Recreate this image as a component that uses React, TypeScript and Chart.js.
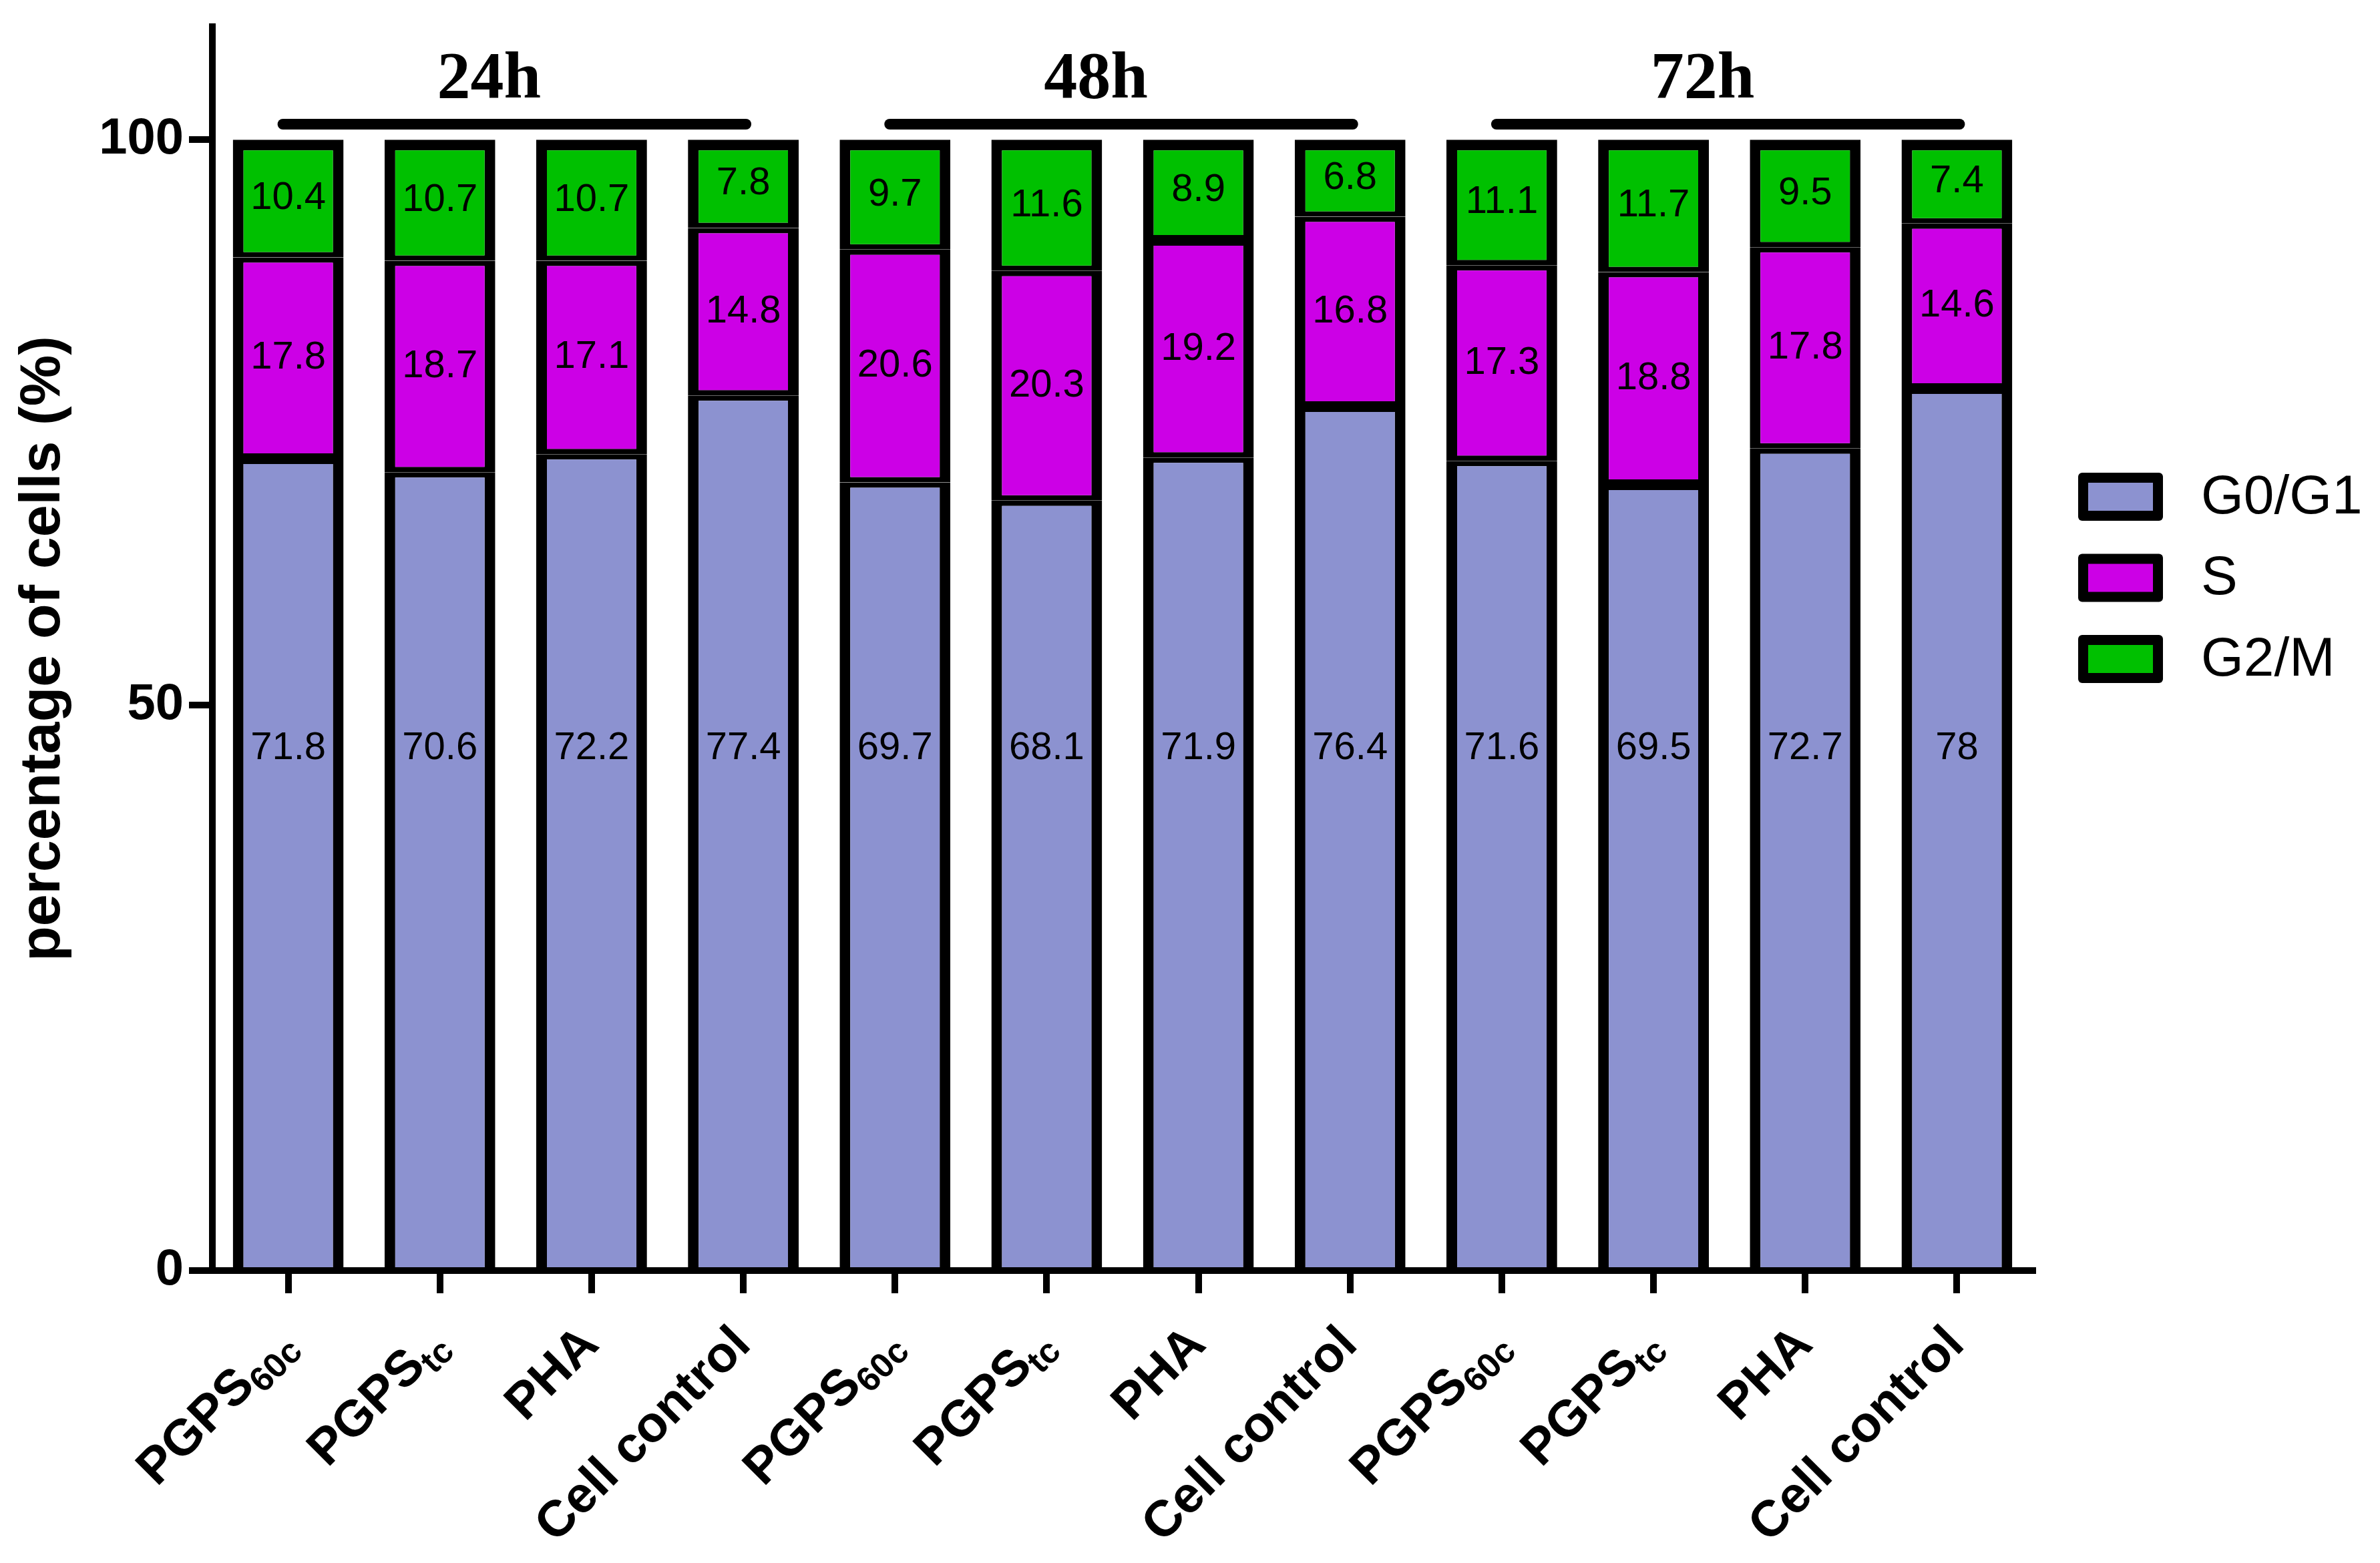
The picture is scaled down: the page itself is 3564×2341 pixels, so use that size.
import { useEffect, useRef } from "react";
import { Chart, ChartConfiguration, Plugin, registerables } from "chart.js";

Chart.register(...registerables);

const groups = ["24h", "48h", "72h"];
const treatments = ["PGPS", "PGPS", "PHA", "Cell control"];
const treatmentSubs = ["60c", "tc", "", ""];
const phases = ["G0/G1", "S", "G2/M"];
const phaseColors = ["#8C92D0", "#CC00E6", "#00C000"];

const g0g1 = [71.8, 70.6, 72.2, 77.4, 69.7, 68.1, 71.9, 76.4, 71.6, 69.5, 72.7, 78];
const sPhase = [17.8, 18.7, 17.1, 14.8, 20.6, 20.3, 19.2, 16.8, 17.3, 18.8, 17.8, 14.6];
const g2m = [10.4, 10.7, 10.7, 7.8, 9.7, 11.6, 8.9, 6.8, 11.1, 11.7, 9.5, 7.4];

const yTicks = [0, 50, 100];
// the G0/G1 numbers all sit at about this height in the original
const bottomLabelLevel = 46.2;

const sans = "'Liberation Sans', Arial, sans-serif";
const serif = "'Liberation Serif', 'Times New Roman', serif";

const labels = groups.flatMap(() => treatments.map((t, i) => t + treatmentSubs[i]));

const annotate: Plugin<"bar"> = {
  id: "annotate",
  afterDatasetsDraw(chart) {
    const { ctx } = chart;
    const ys = chart.scales.y;
    ctx.save();
    ctx.fillStyle = "#000";
    ctx.font = `58px ${sans}`;
    ctx.textAlign = "center";
    ctx.textBaseline = "middle";
    chart.data.datasets.forEach((ds, di) => {
      const meta = chart.getDatasetMeta(di);
      meta.data.forEach((el, i) => {
        const p = el.getProps(["x", "y", "base"], true) as any;
        const ty = di === 0 ? ys.getPixelForValue(bottomLabelLevel) : (p.base + p.y) / 2;
        ctx.fillText(String(ds.data[i]), p.x, ty);
      });
    });
    ctx.restore();
  },
  afterDraw(chart) {
    const { ctx, chartArea } = chart;
    const xs = chart.scales.x;
    ctx.save();
    ctx.fillStyle = "#000";
    ctx.strokeStyle = "#000";

    // rotated category labels with subscripts
    labels.forEach((_, i) => {
      const k = i % treatments.length;
      const main = treatments[k];
      const sub = treatmentSubs[k];
      const px = xs.getPixelForValue(i);
      ctx.save();
      ctx.translate(px + 14, chartArea.bottom + 114);
      ctx.rotate(-Math.PI / 4);
      ctx.textAlign = "left";
      ctx.textBaseline = "alphabetic";
      ctx.font = `bold 52px ${sans}`;
      const wSub = sub ? ctx.measureText(sub).width : 0;
      ctx.font = `bold 76px ${sans}`;
      const wMain = ctx.measureText(main).width;
      ctx.fillText(main, -(wMain + wSub), 0);
      if (sub) {
        ctx.font = `bold 52px ${sans}`;
        ctx.fillText(sub, -wSub, 14);
      }
      ctx.restore();
    });

    // time group headers
    groups.forEach((g, gi) => {
      const n = treatments.length;
      const x0 = xs.getPixelForValue(gi * n);
      const x1 = xs.getPixelForValue(gi * n + n - 1);
      ctx.lineWidth = 16;
      ctx.lineCap = "round";
      ctx.beginPath();
      ctx.moveTo(x0 - 8, chartArea.top + 146);
      ctx.lineTo(x1 + 4, chartArea.top + 146);
      ctx.stroke();
      ctx.font = `bold 100px ${serif}`;
      ctx.textAlign = "center";
      ctx.textBaseline = "alphabetic";
      ctx.fillText(g, (x0 + x1) / 2 - 40, chartArea.top + 106);
    });

    // legend
    const lx = chartArea.right + 68;
    phases.forEach((name, i) => {
      const cy = chartArea.top + 704 + i * 121.5;
      const w = 127;
      const h = 72;
      const bw = 15;
      ctx.fillStyle = "#000";
      ctx.beginPath();
      ctx.roundRect(lx, cy - h / 2, w, h, 6);
      ctx.fill();
      ctx.fillStyle = phaseColors[i];
      ctx.fillRect(lx + bw, cy - h / 2 + bw, w - 2 * bw, h - 2 * bw);
      ctx.fillStyle = "#000";
      ctx.font = `82px ${sans}`;
      ctx.textAlign = "left";
      ctx.textBaseline = "middle";
      ctx.fillText(name, lx + 184, cy + 2);
    });
    ctx.restore();
  },
};

export default function App() {
  const chartRef = useRef<HTMLCanvasElement>(null);
  const chartInstance = useRef<Chart | null>(null);

  useEffect(() => {
    if (!chartRef.current) return;
    if (chartInstance.current) chartInstance.current.destroy();

    const side = 16;
    const config: ChartConfiguration<"bar"> = {
      type: "bar",
      data: {
        labels,
        datasets: [
          {
            label: phases[0],
            data: g0g1,
            backgroundColor: phaseColors[0],
            borderColor: "#000",
            borderWidth: { top: 8, bottom: 0, left: side, right: side },
            borderSkipped: false,
          },
          {
            label: phases[1],
            data: sPhase,
            backgroundColor: phaseColors[1],
            borderColor: "#000",
            borderWidth: { top: 8, bottom: 8, left: side, right: side },
            borderSkipped: false,
          },
          {
            label: phases[2],
            data: g2m,
            backgroundColor: phaseColors[2],
            borderColor: "#000",
            borderWidth: { top: 16, bottom: 8, left: side, right: side },
            borderSkipped: false,
          },
        ],
      },
      options: {
        animation: false,
        responsive: true,
        maintainAspectRatio: false,
        layout: { padding: { left: 0, top: 40, right: 520, bottom: 0 } },
        datasets: {
          bar: { barPercentage: 0.73, categoryPercentage: 1 },
        },
        plugins: {
          legend: { display: false },
          tooltip: { enabled: false },
        },
        scales: {
          x: {
            stacked: true,
            afterFit: (scale) => {
              scale.height = 438;
              scale.paddingLeft = 0;
              scale.paddingRight = 0;
            },
            grid: {
              display: true,
              drawOnChartArea: false,
              drawTicks: true,
              tickLength: 34,
              lineWidth: 10,
              color: "#000",
              offset: false,
            },
            border: { display: true, color: "#000", width: 10, z: 1 },
            ticks: { display: false },
          },
          y: {
            stacked: true,
            min: 0,
            max: 110,
            afterBuildTicks: (scale) => {
              scale.ticks = yTicks.map((v) => ({ value: v }));
            },
            afterFit: (scale) => {
              scale.width = 318;
              scale.paddingTop = 0;
              scale.paddingBottom = 0;
            },
            grid: {
              display: true,
              drawOnChartArea: false,
              drawTicks: true,
              tickLength: 35,
              lineWidth: 10,
              color: "#000",
            },
            border: { display: true, color: "#000", width: 10, z: 1 },
            ticks: {
              color: "#000",
              padding: 8,
              font: { family: sans, size: 76, weight: "bold" },
            },
            title: {
              display: true,
              text: "percentage of cells (%)",
              color: "#000",
              padding: { top: 14, bottom: 0 },
              font: { family: sans, size: 86, weight: "bold" },
            },
          },
        },
      },
      plugins: [annotate],
    };

    chartInstance.current = new Chart(chartRef.current, config);

    return () => {
      if (chartInstance.current) {
        chartInstance.current.destroy();
        chartInstance.current = null;
      }
    };
  }, []);

  return (
    <div
      style={{
        position: "fixed",
        left: 0,
        top: 0,
        width: 3564,
        height: 2341,
        background: "#fff",
      }}
    >
      <canvas ref={chartRef}></canvas>
    </div>
  );
}
